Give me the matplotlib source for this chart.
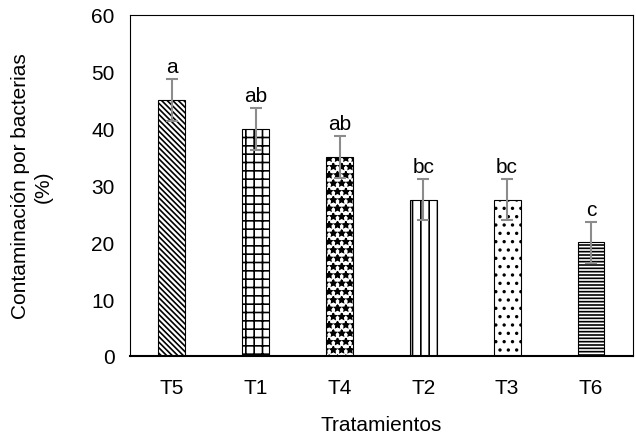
import matplotlib
matplotlib.use('Agg')
import matplotlib.pyplot as plt

plt.rcParams['font.family'] = ['Liberation Sans', 'DejaVu Sans']
plt.rcParams['hatch.linewidth'] = 1.2

tratamientos = ['T5', 'T1', 'T4', 'T2', 'T3', 'T6']
contaminacion = [45, 40, 35, 27.5, 27.5, 20]
error = [3.7, 3.7, 3.7, 3.6, 3.6, 3.6]
letras = ['a', 'ab', 'ab', 'bc', 'bc', 'c']
hatches = ['\\\\\\\\\\\\', '++', '**', '||', '..', '-----']

fig = plt.figure(figsize=(6.36, 4.39), dpi=100)
ax = fig.add_axes([0.2044, 0.1868, 0.7906, 0.7768])

x = range(len(tratamientos))
bars = ax.bar(x, contaminacion, width=0.32, color='white', edgecolor='black',
              linewidth=0.8, zorder=2)
for b, h in zip(bars, hatches):
    b.set_hatch(h)

ax.errorbar(x, contaminacion, yerr=error, fmt='none', ecolor='#8c8c8c',
            elinewidth=1.5, capsize=4, capthick=1.5, zorder=3)

for xi, v, e, l in zip(x, contaminacion, error, letras):
    ax.text(xi, v + e + 0.5, l, ha='center', va='bottom', fontsize=15)

ax.set_xlim(-0.5, 5.5)
ax.set_ylim(0, 60)
ax.set_yticks([0, 10, 20, 30, 40, 50, 60])
ax.set_xticks(list(x))
ax.set_xticklabels(tratamientos)
ax.tick_params(axis='x', length=0, labelsize=15, pad=16)
ax.tick_params(axis='y', length=0, labelsize=15, pad=11)
for s in ['left', 'top', 'right']:
    ax.spines[s].set_linewidth(0.8)
ax.spines['bottom'].set_linewidth(1.5)

ax.set_xlabel('Tratamientos', fontsize=15, labelpad=13)
ax.set_ylabel('Contaminación por bacterias\n(%)', fontsize=15, labelpad=28)

fig.savefig('out.png', dpi=100)
